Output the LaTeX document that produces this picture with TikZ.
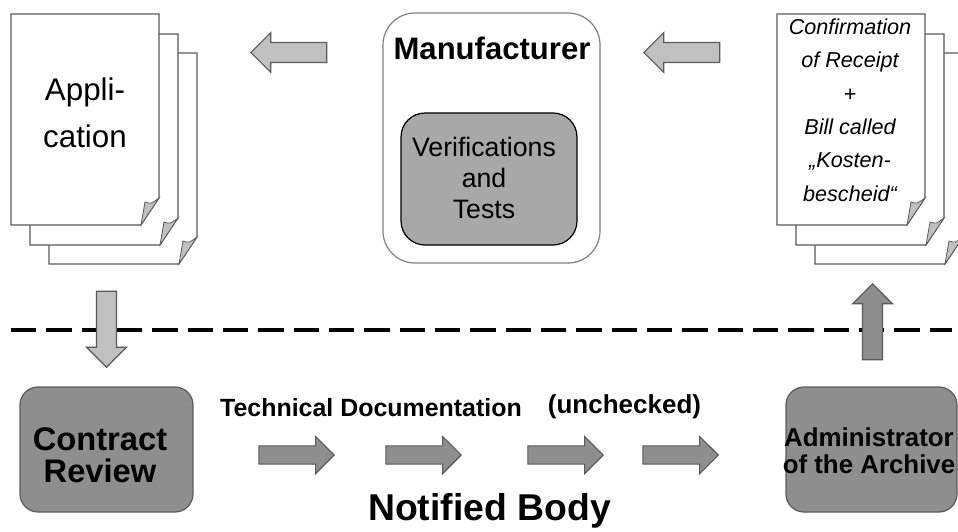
\documentclass[tikz,border=0pt]{standalone}
\usepackage{fontspec}
\setmainfont{Liberation Sans}
\usetikzlibrary{shapes.arrows}

\definecolor{lightgrey}{HTML}{C0C0C0}
\definecolor{darkgrey}{HTML}{8E8E8E}
\definecolor{midgrey}{HTML}{A8A8A8}
\definecolor{edgegrey}{HTML}{5A5A5A}

\begin{document}
\begin{tikzpicture}[
        x=0.75pt, y=-0.75pt,
        sheet/.pic={
            \filldraw[draw=edgegrey, fill=white, line width=0.9pt] (0,0) -- (148,0) -- (148,184) -- (130,211) -- (0,211) -- cycle;
            \filldraw[draw=edgegrey, fill=lightgrey, line width=0.6pt] (130,211) -- (134,188) .. controls (140,190) .. (148,184) -- cycle;
        },
        block arrow/.style={single arrow, draw=edgegrey, line width=0.8pt, inner xsep=0pt, inner ysep=7.1pt,
            minimum height=57pt, single arrow head extend=7.5pt, anchor=tip},
        upright arrow/.style={block arrow, inner xsep=7.1pt, inner ysep=0pt},
        small arrow/.style={block arrow, inner ysep=6.4pt, minimum height=56.5pt, single arrow head extend=7.1pt},
        light/.style={fill=lightgrey},
        dark/.style={fill=darkgrey},
        box/.style={draw=edgegrey, fill=darkgrey, line width=0.9pt, rounded corners=13.5pt,
            minimum height=93.75pt, inner sep=0pt},
        divider/.style={line width=3pt, dash pattern=on 19pt off 7.5pt},
        every node/.style={color=black}]

    \useasboundingbox (0,0) rectangle (958,532);

    % application
    \pic at (49,53) {sheet};
    \pic at (30,34) {sheet};
    \pic at (11,14) {sheet};
    \node (appl) at (85,113) [align=center, font=\fontsize{23.5}{35}\selectfont] {Appli-\\cation};

    % receipt and bill
    \pic at (815,53) {sheet};
    \pic at (796,34) {sheet};
    \pic at (777,14) {sheet};
    \node (receipt) at (850,110) [align=center, font=\itshape\fontsize{16.2}{25}\selectfont]
        {Confirmation\\of Receipt\\+\\Bill called\\„Kosten-\\bescheid“};

    % manufacturer
    \node (manu) at (491.5,138) [draw=gray, line width=0.9pt, rounded corners=24pt,
        minimum width=162.75pt, minimum height=187.5pt] {};
    \node (manutitle) at (492,59) [anchor=base, font=\bfseries\fontsize{23.3}{28}\selectfont] {Manufacturer};
    \node (tests) at (489,179) [draw=black, fill=midgrey, line width=0.9pt, rounded corners=18pt,
        minimum width=132pt, minimum height=99pt] {};
    \node (testlabel) at (484,178) [align=center, font=\fontsize{20}{23}\selectfont] {Verifications\\and\\Tests};

    % border
    \draw[divider] (11,330) -- (952,330);

    % notified body
    \node (review) at (106.5,449.5) [box, minimum width=129.75pt] {};
    \node (reviewlabel) at (100,455) [align=center, font=\bfseries\fontsize{24.5}{24}\selectfont] {Contract\\Review};
    \node (archive) at (871.5,449.5) [box, minimum width=128.25pt] {};
    \node (archivelabel) at (869,451) [align=center, font=\bfseries\fontsize{19.4}{20.5}\selectfont]
        {Administrator\\of the Archive};
    \node (techdoc) at (371,416) [anchor=base, font=\bfseries\fontsize{18.7}{22}\selectfont] {Technical Documentation};
    \node (unchecked) at (624.5,413) [anchor=base, font=\bfseries\fontsize{19.5}{22}\selectfont] {(unchecked)};
    \node (body) at (489.5,520) [anchor=base, font=\bfseries\fontsize{28}{32}\selectfont] {Notified Body};

    % arrows
    \node (toappl) at (250,52.5) [block arrow, light, shape border rotate=180] {};
    \node (tomanu) at (643,52.5) [block arrow, light, shape border rotate=180] {};
    \node (toreview) at (106.5,368) [upright arrow, light, shape border rotate=270] {};
    \node (toreceipt) at (872.5,283) [upright arrow, dark, shape border rotate=90] {};
    \foreach \x [count=\i] in {335,462,604,719}
        \node (doc\i) at (\x,455) [small arrow, dark] {};
\end{tikzpicture}
\end{document}
